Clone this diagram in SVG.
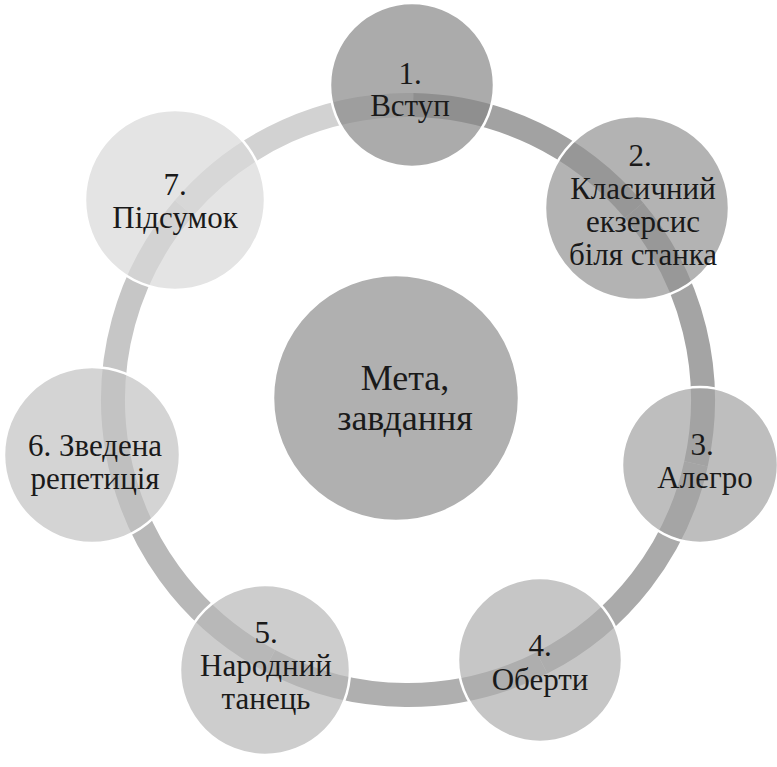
<svg xmlns="http://www.w3.org/2000/svg" width="777" height="767" viewBox="0 0 777 767">
<style>
.seg{fill:none;stroke-width:24}
.node{stroke:#ffffff;stroke-width:2.5;fill-opacity:0.7}
.t{font-family:"Liberation Serif","Times New Roman",serif;font-size:31px;fill:#1a1a1a;text-anchor:middle}
.tc{font-size:36px}
</style>
<rect width="777" height="767" fill="#ffffff"/>
<g id="connectors">
<path class="seg" stroke="#d2d2d2" d="M184,208 A295,295 0 0 1 413.1,105"/>
<path class="seg" stroke="#a2a2a2" d="M413.1,105 A295,295 0 0 1 634,210.4"/>
<path class="seg" stroke="#a4a4a4" d="M634,210.4 A295,295 0 0 1 696,463.8"/>
<path class="seg" stroke="#aaaaaa" d="M696,463.8 A295,295 0 0 1 541.9,662.9"/>
<path class="seg" stroke="#afafaf" d="M541.9,662.9 A295,295 0 0 1 269.5,660.5"/>
<path class="seg" stroke="#b8b8b8" d="M269.5,660.5 A295,295 0 0 1 117.5,451.2"/>
<path class="seg" stroke="#c6c6c6" d="M117.5,451.2 A295,295 0 0 1 184,208"/>
</g>
<g id="center">
<circle cx="396" cy="398" r="123" fill="#b0b0b0" stroke="#ffffff" stroke-width="2.5"/>
<text class="t tc" x="405" y="390">Мета,</text>
<text class="t tc" x="405" y="430">завдання</text>
</g>
<g id="node1">
<circle class="node" cx="412" cy="85" r="82" fill="#878787"/>
<text class="t" x="410" y="84">1.</text>
<text class="t" x="410" y="116">Вступ</text>
</g>
<g id="node2">
<circle class="node" cx="637" cy="208" r="92" fill="#939393"/>
<text class="t" x="640" y="166">2.</text>
<text class="t" x="643" y="199">Класичний</text>
<text class="t" x="643" y="232">екзерсис</text>
<text class="t" x="643" y="265">біля станка</text>
</g>
<g id="node3">
<circle class="node" cx="700" cy="465" r="78" fill="#a2a2a2"/>
<text class="t" x="702" y="455">3.</text>
<text class="t" x="705" y="488">Алегро</text>
</g>
<g id="node4">
<circle class="node" cx="540" cy="660" r="82" fill="#aeaeae"/>
<text class="t" x="540" y="656">4.</text>
<text class="t" x="540" y="690">Оберти</text>
</g>
<g id="node5">
<circle class="node" cx="265" cy="670" r="85" fill="#b8b8b8"/>
<text class="t" x="266" y="643">5.</text>
<text class="t" x="266" y="676">Народний</text>
<text class="t" x="266" y="709">танець</text>
</g>
<g id="node6">
<circle class="node" cx="92" cy="455" r="88" fill="#c2c2c2"/>
<text class="t" x="95" y="456">6. Зведена</text>
<text class="t" x="95" y="489">репетиція</text>
</g>
<g id="node7">
<circle class="node" cx="175" cy="200" r="90" fill="#d8d8d8"/>
<text class="t" x="175" y="195">7.</text>
<text class="t" x="175" y="228">Підсумок</text>
</g>
</svg>
